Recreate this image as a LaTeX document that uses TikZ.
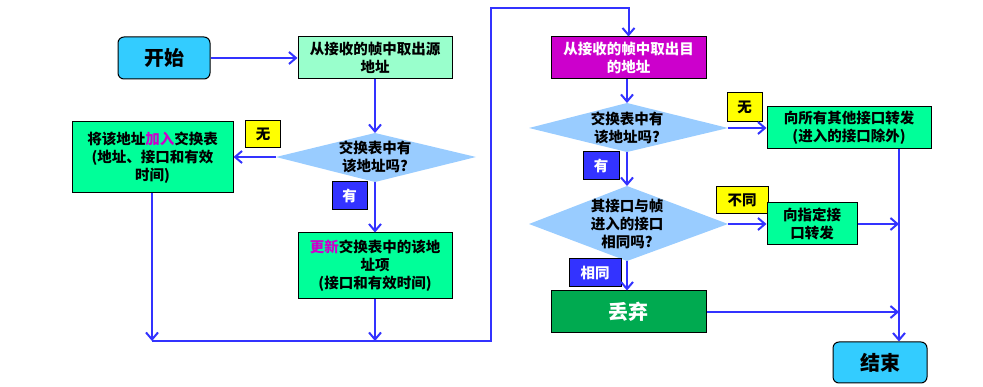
\documentclass[tikz,border=0pt]{standalone}
\usepackage{fontspec}
\setmainfont{Noto Sans CJK SC}
\usetikzlibrary{arrows.meta}
\definecolor{lineblue}{HTML}{3333FF}
\definecolor{cyanbox}{HTML}{33CCFF}
\definecolor{mint}{HTML}{99FFCC}
\definecolor{greenbox}{HTML}{00FF99}
\definecolor{diafill}{HTML}{99CCFF}
\definecolor{yellowbox}{HTML}{FFFF00}
\definecolor{bluebox}{HTML}{3333FF}
\definecolor{purplebox}{HTML}{CC00CC}
\definecolor{magtext}{HTML}{CC00CC}
\definecolor{dropgreen}{HTML}{00AA50}
\tikzset{
  box/.style={draw=black, line width=1pt, inner sep=0pt, align=center,
    font=\bfseries\fontsize{14.5}{18}\selectfont},
  bigbox/.style={box, font=\bfseries\fontsize{20}{24}\selectfont},
  termbox/.style={bigbox, rounded corners=6pt, fill=cyanbox},
  ylabel/.style={box, fill=yellowbox},
  blabel/.style={box, fill=bluebox, text=white},
  diatext/.style={inner sep=0pt, align=center, font=\bfseries\fontsize{14.5}{18}\selectfont},
  flow/.style={draw=lineblue, line width=2pt},
  arr/.style={flow, -{Straight Barb[length=7pt,width=12pt,line width=2pt]}},
}
\begin{document}
\begin{tikzpicture}[x=1pt,y=-1pt]
\useasboundingbox (0,0) rectangle (983,387);
% diamonds
\coordinate (d1w) at (276,157); \coordinate (d1n) at (375,133);
\coordinate (d1e) at (476,157); \coordinate (d1s) at (375,182);
\coordinate (d2w) at (529,128); \coordinate (d2n) at (627,103);
\coordinate (d2e) at (728,128); \coordinate (d2s) at (627,152);
\coordinate (d3w) at (529,224); \coordinate (d3n) at (627,186);
\coordinate (d3e) at (728,224); \coordinate (d3s) at (627,261);
\fill[diafill] (d1w) -- (d1n) -- (d1e) -- (d1s) -- cycle;
\fill[diafill] (d2w) -- (d2n) -- (d2e) -- (d2s) -- cycle;
\fill[diafill] (d3w) -- (d3n) -- (d3e) -- (d3s) -- cycle;
\node[diatext] (t1) at (375,157) {交换表中有\\该地址吗?};
\node[diatext] (t2) at (627,128) {交换表中有\\该地址吗?};
\node[diatext] (t3) at (627,224) {其接口与帧\\进入的接口\\相同吗?};
% boxes
\node[termbox, minimum width=92pt, minimum height=42pt] (start) at (164,58) {开始};
\node[box, fill=mint, minimum width=154pt, minimum height=42pt] (src) at (375,58) {从接收的帧中取出源\\地址};
\node[box, fill=greenbox, minimum width=161pt, minimum height=71pt] (add) at (152.5,157.5) {将该地址\textcolor{magtext}{加入}交换表\\(地址、接口和有效\\时间)};
\node[box, fill=greenbox, minimum width=154pt, minimum height=66pt] (upd) at (375,266) {\textcolor{magtext}{更新}交换表中的该地\\址项\\(接口和有效时间)};
\node[ylabel, minimum width=35pt, minimum height=27pt] (no1) at (263,134) {无};
\node[blabel, minimum width=35pt, minimum height=28pt] (yes1) at (349.5,196) {有};
\node[box, fill=purplebox, text=white, minimum width=155pt, minimum height=42pt] (dst) at (628.5,58) {从接收的帧中取出目\\的地址};
\node[ylabel, minimum width=35pt, minimum height=29pt] (no2) at (744.5,107.5) {无};
\node[box, fill=greenbox, minimum width=164pt, minimum height=42pt] (fwdall) at (849,128) {向所有其他接口转发\\(进入的接口除外)};
\node[blabel, minimum width=36pt, minimum height=28pt] (yes2) at (601,166) {有};
\node[ylabel, minimum width=52pt, minimum height=27pt] (diff) at (742,200.5) {不同};
\node[box, fill=greenbox, minimum width=90pt, minimum height=42pt] (fwd) at (812,224) {向指定接\\口转发};
\node[blabel, minimum width=52pt, minimum height=28pt] (same) at (595,273) {相同};
\node[bigbox, fill=dropgreen, text=white, minimum width=155pt, minimum height=42pt] (drop) at (628.5,312) {丢弃};
\node[termbox, minimum width=94pt, minimum height=41pt] (end) at (880,362.5) {结束};
% junction coordinates
\coordinate (bl) at (152,341);
\coordinate (bm) at (375,341);
\coordinate (br) at (491,341);
\coordinate (tl) at (491,8);
\coordinate (vx) at (899,224);
\coordinate (vy) at (899,312);
% connectors
\draw[arr] (start.east) -- (start.east -| src.west);
\draw[arr] (src.south) -- (d1n);
\draw[arr] (d1w) -- (d1w -| add.east);
\draw[arr] (d1s) -- (upd.north);
\draw[arr] (add.south -| bl) -- (bl);
\draw[arr] (upd.south) -- (bm);
\draw[arr] (bl) -- (br) -- (tl) -| (dst.north);
\draw[arr] (dst.south -| d2n) -- (d2n);
\draw[arr] (d2e) -- (d2e -| fwdall.west);
\draw[arr] (d2s) -- (d3n);
\draw[arr] (d3e) -- (d3e -| fwd.west);
\draw[arr] (d3s) -- (d3s |- drop.north);
\draw[arr] (fwd.east) -- (vx);
\draw[arr] (drop.east) -- (vy);
\draw[arr] (fwdall.south -| vx) -- (end.north -| vx);
\end{tikzpicture}
\end{document}
